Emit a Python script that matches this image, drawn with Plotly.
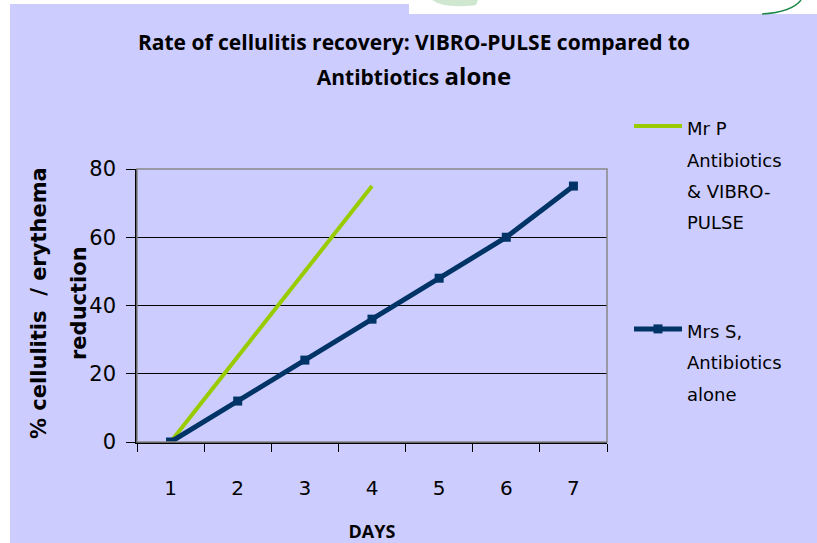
import plotly.graph_objects as go

days = ["1", "2", "3", "4", "5", "6", "7"]
mr_p_days = ["1", "2", "3", "4"]
mr_p_values = [0, 25, 50, 75]
mrs_s_values = [0, 12, 24, 36, 48, 60, 75]
y_ticks = [0, 20, 40, 60, 80]

W, H = 817, 543
RL, RR, RT, RB = 137, 607, 169, 442  # plot area in pixels


def px(x):
    return (x - RL) / (RR - RL)


def py(y):
    return (RB - y) / (RB - RT)


LAV = "#CCCCFF"
GREEN = "#99CC00"
BLUE = "#003366"


def lines(parts, size):
    return "<br>".join(f"<span style='font-size:{size}px'>{p}</span>" for p in parts)


fig = go.Figure()
fig.add_trace(go.Scatter(
    x=mr_p_days, y=mr_p_values, mode="lines",
    name=lines(["Mr P", "Antibiotics", "&amp; VIBRO-", "PULSE"], 18),
    line=dict(color=GREEN, width=4), legendgroup="a",
))
fig.add_trace(go.Scatter(
    x=days, y=mrs_s_values, mode="lines+markers",
    name=lines(["Mrs S,", "Antibiotics", "alone"], 18),
    line=dict(color=BLUE, width=5),
    marker=dict(symbol="square", size=9, color=BLUE),
    legendgroup="b",
))

shapes = [
    # white page areas outside the lavender panel
    dict(type="rect", xref="paper", yref="paper", x0=px(-10), x1=px(10), y0=py(560), y1=py(-10),
         fillcolor="white", line_width=0, layer="above"),
    dict(type="rect", xref="paper", yref="paper", x0=px(-10), x1=px(830), y0=py(4), y1=py(-10),
         fillcolor="white", line_width=0, layer="above"),
    dict(type="rect", xref="paper", yref="paper", x0=px(409), x1=px(830), y0=py(14), y1=py(-10),
         fillcolor="white", line_width=0, layer="above"),
    # plot frame (grey top/right)
    dict(type="rect", xref="paper", yref="paper", x0=0, x1=1, y0=0, y1=1,
         line=dict(color="#888888", width=1.5), fillcolor="rgba(0,0,0,0)", layer="above"),
    # decorative logo arcs at the top
    dict(type="path", xref="paper", yref="paper",
         path=f"M {px(432)},{py(0)} Q {px(445)},{py(9)} {px(476)},{py(5)} L {px(478)},{py(0)} Z",
         fillcolor="#cfe6cf", line_width=0, layer="above"),
    dict(type="path", xref="paper", yref="paper",
         path=f"M {px(762)},{py(14)} Q {px(792)},{py(12)} {px(801)},{py(0)}",
         line=dict(color="#1f8a4c", width=1.5), layer="above"),
]

annotations = [
    dict(text=lines(["% cellulitis  / erythema", "reduction"], 21),
         textangle=-90, xref="paper", yref="paper", x=px(59), y=py(303),
         xanchor="center", yanchor="middle", showarrow=False,
         font=dict(family="DejaVu Sans", size=31, color="black", weight="bold")),
]

fig.update_layout(
    width=W, height=H,
    margin=dict(l=RL, r=W - RR, t=RT, b=H - RB, autoexpand=False),
    paper_bgcolor=LAV, plot_bgcolor=LAV,
    shapes=shapes, annotations=annotations,
    title=dict(
        text="<span style='font-size:21px'>Rate of cellulitis recovery: VIBRO-PULSE compared to</span><br>"
             "<span style='font-size:21px'>Antibtiotics </span><span style='font-size:24px'>alone</span>",
        x=414 / W, xanchor="center", xref="container",
        y=1 - 50 / H, yanchor="top", yref="container",
        font=dict(family="Open Sans", size=27, color="black", weight="bold"),
    ),
    font=dict(family="DejaVu Sans", color="black"),
    xaxis=dict(
        type="category", categoryorder="array", categoryarray=days,
        range=[-0.5, 6.5], tickson="boundaries", ticks="outside", ticklen=8,
        tickcolor="black", showline=True, linecolor="black", linewidth=1.5,
        showgrid=False, tickfont=dict(size=20), ticklabelstandoff=27,
        title=dict(text="DAYS", font=dict(family="Open Sans", size=18, weight="bold"), standoff=40),
        automargin=False,
    ),
    yaxis=dict(
        range=[0, 80], tickvals=y_ticks, ticks="outside", ticklen=9,
        tickcolor="black", showline=True, linecolor="black", linewidth=1.5,
        showgrid=True, gridcolor="black", gridwidth=1, zeroline=False,
        tickfont=dict(size=21), ticklabelstandoff=6,
        automargin=False,
    ),
    legend=dict(
        x=px(629), xanchor="left", y=py(104), yanchor="top",
        font=dict(family="DejaVu Sans", size=24, color="black"),
        bgcolor="rgba(0,0,0,0)", tracegroupgap=75, valign="top",
        itemwidth=48, maxheight=520,
    ),
)

fig.write_html(
    "out.html",
    config={"displayModeBar": False},
    post_script="document.body.style.margin='0';document.body.style.overflow='hidden';",
)
